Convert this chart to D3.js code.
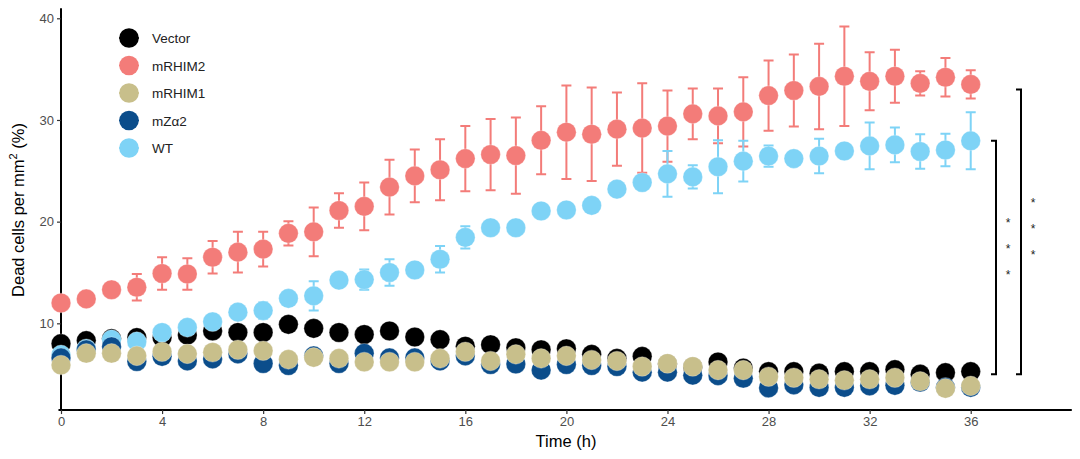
<!DOCTYPE html>
<html>
<head>
<meta charset="utf-8">
<script src="https://cdn.jsdelivr.net/npm/d3@7"></script>
<style>
  html, body { margin: 0; padding: 0; background: #fff; }
  svg { display: block; font-family: "Liberation Sans", Arial, sans-serif; }
</style>
</head>
<body>
<svg id="chart" width="1080" height="459"></svg>
<script>
// ---- data ----
const times = d3.range(0, 37);
const seriesNames = ["Vector", "mRHIM2", "mRHIM1", "mZα2", "WT"];
const vectorMean = [8.0, 8.3, 8.5, 8.6, 8.6, 8.85, 9.25, 9.1, 9.1, 9.9, 9.5, 9.1, 8.9, 9.25, 8.65, 8.4, 7.75, 7.9, 7.6, 7.4, 7.5, 6.95, 6.55, 6.75, 6.0, 5.7, 6.2, 5.6, 5.25, 5.25, 5.1, 5.25, 5.25, 5.45, 5.0, 5.15, 5.25];
const vectorErr  = [0.3, 0.3, 0.3, 0.3, 0.3, 0.3, 0.3, 0.3, 0.3, 0.6, 0.3, 0.3, 0.3, 0.3, 0.3, 0.3, 0.3, 0.3, 0.3, 0.3, 0.3, 0.3, 0.3, 0.5, 0.3, 0.3, 0.3, 0.3, 0.3, 0.3, 0.3, 0.3, 0.3, 0.3, 0.3, 0.3, 0.3];
const rhim2Mean = [12.0, 12.4, 13.3, 13.55, 14.9, 14.85, 16.5, 17.0, 17.3, 18.85, 19.0, 21.1, 21.5, 23.4, 24.5, 25.1, 26.2, 26.6, 26.5, 28.0, 28.8, 28.6, 29.1, 29.2, 29.4, 30.6, 30.4, 30.8, 32.4, 32.9, 33.3, 34.3, 33.8, 34.3, 33.6, 34.2, 33.5];
const rhim2Err  = [0.3, 0.3, 0.3, 1.3, 1.6, 1.55, 1.6, 2.0, 1.7, 1.2, 2.4, 1.7, 2.35, 2.7, 2.6, 3.0, 3.2, 3.5, 3.75, 3.35, 4.6, 4.6, 3.6, 4.4, 3.5, 2.5, 2.7, 3.4, 3.45, 3.55, 4.2, 4.9, 2.85, 2.6, 1.2, 1.9, 1.4];
const rhim1Mean = [5.9, 7.05, 7.05, 6.8, 7.2, 7.0, 7.15, 7.4, 7.3, 6.45, 6.65, 6.55, 6.2, 6.2, 6.2, 6.55, 7.2, 6.3, 6.95, 6.55, 6.8, 6.4, 6.3, 5.75, 6.05, 5.75, 5.4, 5.4, 4.75, 4.65, 4.5, 4.4, 4.5, 4.65, 4.3, 3.6, 3.85];
const rhim1Err  = [0.3, 0.3, 0.3, 0.3, 0.3, 0.3, 0.3, 0.3, 0.3, 0.3, 0.3, 0.3, 0.3, 0.3, 0.3, 0.3, 0.3, 0.3, 0.3, 0.3, 0.3, 0.3, 0.3, 0.3, 0.3, 0.3, 0.3, 0.3, 0.3, 0.3, 0.3, 0.3, 0.3, 0.3, 0.3, 0.3, 0.3];
const zaMean = [6.6, 7.4, 7.7, 6.25, 6.75, 6.3, 6.5, 7.0, 6.05, 5.85, 6.8, 6.05, 7.05, 6.6, 6.6, 6.3, 6.8, 5.95, 6.0, 5.4, 5.95, 5.85, 5.75, 5.2, 5.2, 4.9, 4.85, 4.6, 3.65, 3.95, 3.7, 3.7, 3.85, 3.9, 4.2, 3.7, 3.7];
const zaErr  = [0.3, 0.3, 0.3, 0.3, 0.3, 0.3, 0.3, 0.3, 0.3, 0.3, 0.3, 0.3, 0.3, 0.3, 0.4, 0.7, 0.3, 0.3, 0.3, 0.3, 0.3, 0.3, 0.3, 0.3, 0.3, 0.3, 0.3, 0.3, 0.3, 0.3, 0.3, 0.3, 0.3, 0.3, 0.3, 0.3, 0.3];
const wtMean = [6.9, 7.5, 8.4, 8.2, 9.1, 9.6, 10.15, 11.1, 11.25, 12.45, 12.7, 14.25, 14.3, 15.0, 15.25, 16.3, 18.45, 19.4, 19.4, 21.05, 21.15, 21.6, 23.2, 23.85, 24.7, 24.4, 25.4, 25.95, 26.45, 26.2, 26.45, 26.95, 27.45, 27.55, 26.9, 27.05, 27.95];
const wtErr  = [0.3, 0.3, 0.3, 0.4, 0.3, 0.3, 0.3, 0.4, 0.8, 0.3, 1.45, 0.3, 1.0, 1.3, 0.3, 1.3, 1.1, 0.3, 0.3, 0.3, 0.3, 0.3, 0.3, 0.3, 2.25, 1.15, 2.6, 2.0, 1.05, 0.3, 1.7, 0.3, 2.3, 1.7, 1.7, 1.6, 2.8];
const colors = ["#000000", "#F37C79", "#C8BF8B", "#0B4D8B", "#7ED3F6"];
const xTicks = [0, 4, 8, 12, 16, 20, 24, 28, 32, 36];
const yTicks = [10, 20, 30, 40];
// significance brackets: [top value, bottom value, label]
const bracketTops = [27.95, 33.0];
const bracketBottom = 5.0;
const bracketLabels = ["***", "***"];

// ---- scales ----
const svg = d3.select("#chart");
const x = d3.scaleLinear().domain([0, 40]).range([61, 1071.8]);
const y = d3.scaleLinear().domain([0, 40]).range([425, 18.3]);

const series = [
  {name: "Vector", mean: vectorMean, err: vectorErr, color: colors[0]},
  {name: "mRHIM2", mean: rhim2Mean, err: rhim2Err, color: colors[1]},
  {name: "mRHIM1", mean: rhim1Mean, err: rhim1Err, color: colors[2]},
  {name: "mZα2", mean: zaMean, err: zaErr, color: colors[3]},
  {name: "WT", mean: wtMean, err: wtErr, color: colors[4]}
];
// drawing order (back to front)
const drawOrder = ["Vector", "mRHIM2", "WT", "mZα2", "mRHIM1"];

// ---- axes ----
const xAxis = d3.axisBottom(x).tickValues(xTicks).tickSize(4).tickPadding(3).tickSizeOuter(0);
const gx = svg.append("g").attr("transform", `translate(0,${y(1.47)})`).call(xAxis);
gx.select(".domain").attr("d", `M${x(-0.1)},0H${x(40)}`).attr("stroke", "#000").attr("stroke-width", 2);
gx.selectAll(".tick line").attr("stroke", "#333").attr("stroke-width", 1.2);
gx.selectAll(".tick text").attr("fill", "#4D4D4D").attr("font-size", 13).attr("font-family", "Liberation Sans, Arial, sans-serif");

const yAxis = d3.axisLeft(y).tickValues(yTicks).tickSize(4).tickPadding(3).tickSizeOuter(0);
const gy = svg.append("g").attr("transform", `translate(${x(0)},0)`).call(yAxis);
gy.select(".domain").attr("d", `M0,${y(41)}V${y(1.47)}`).attr("stroke", "#000").attr("stroke-width", 2);
gy.selectAll(".tick line").attr("stroke", "#333").attr("stroke-width", 1.2);
gy.selectAll(".tick text").attr("fill", "#4D4D4D").attr("font-size", 13).attr("font-family", "Liberation Sans, Arial, sans-serif");

// axis titles
svg.append("text").attr("x", 566).attr("y", 447).attr("text-anchor", "middle")
  .attr("font-size", 16.5).attr("fill", "#000").text("Time (h)");
const yt = svg.append("text").attr("transform", "translate(24,210) rotate(-90)")
  .attr("text-anchor", "middle").attr("font-size", 16.5).attr("fill", "#000");
yt.append("tspan").text("Dead cells per mm");
yt.append("tspan").attr("font-size", 11).attr("dy", -7).text("2");
yt.append("tspan").attr("dy", 7).text(" (%)");

// ---- series ----
const capW = 5, r = 9.8;
drawOrder.forEach(nm => {
  const s = series.find(d => d.name === nm);
  const g = svg.append("g");
  const pts = times.map((t, i) => ({t, m: s.mean[i], e: s.err[i]}));
  g.selectAll("path.err").data(pts).join("path").attr("class", "err")
    .attr("d", d => {
      const xx = x(d.t), y1 = y(d.m + d.e), y2 = y(d.m - d.e);
      return `M${xx - capW},${y1}H${xx + capW}M${xx},${y1}V${y2}M${xx - capW},${y2}H${xx + capW}`;
    })
    .attr("stroke", s.color).attr("stroke-width", 2).attr("fill", "none");
  g.selectAll("circle").data(pts).join("circle")
    .attr("cx", d => x(d.t)).attr("cy", d => y(d.m)).attr("r", r)
    .attr("fill", s.color).attr("stroke", "#fff").attr("stroke-opacity", 0.35).attr("stroke-width", 0.8);
});

// ---- brackets ----
const bx = [996, 1021];
bracketTops.forEach((top, i) => {
  const xx = bx[i];
  svg.append("path")
    .attr("d", `M${xx - 5},${y(top)}H${xx}V${y(bracketBottom)}H${xx - 5}`)
    .attr("stroke", "#000").attr("stroke-width", 2).attr("fill", "none");
  const mid = i === 0 ? 248 : 228;
  bracketLabels[i].split("").forEach((c, k) => {
    svg.append("text").attr("x", xx + 12).attr("y", mid + (k - 1) * 26 + 5)
      .attr("text-anchor", "middle").attr("font-size", 12).attr("fill", "#222").text(c);
  });
});

// ---- legend ----
const lg = svg.append("g");
const legY = [38, 65.5, 93, 120.5, 148];
series.forEach((s, i) => {
  lg.append("line").attr("x1", 119).attr("x2", 139).attr("y1", legY[i]).attr("y2", legY[i])
    .attr("stroke", s.color).attr("stroke-width", 1.5);
  lg.append("circle").attr("cx", 129).attr("cy", legY[i]).attr("r", 9.8).attr("fill", s.color);
  lg.append("text").attr("x", 152).attr("y", legY[i] + 5).attr("font-size", 13.5).attr("fill", "#222").text(s.name);
});
</script>
</body>
</html>
